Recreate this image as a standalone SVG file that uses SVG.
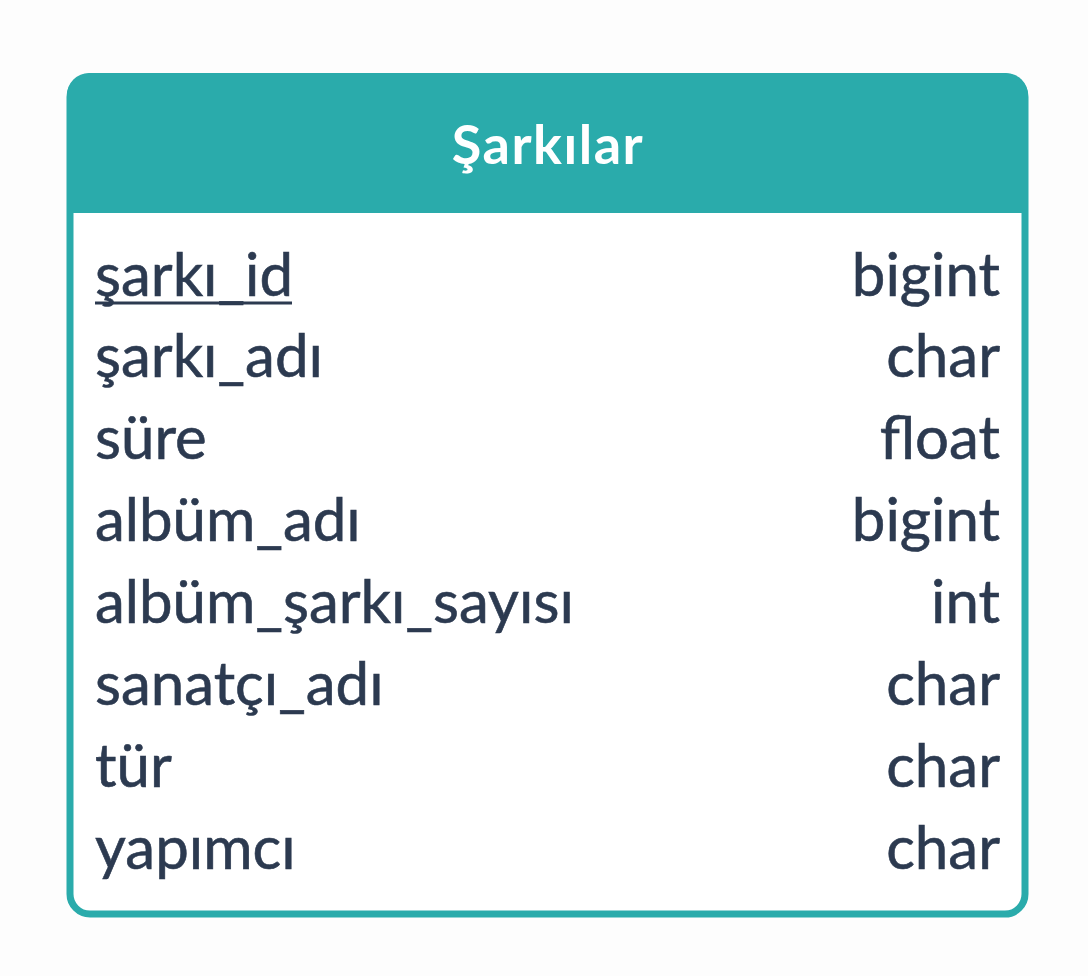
<svg xmlns="http://www.w3.org/2000/svg" width="1088" height="976" viewBox="0 0 1088 976">
<style>
.f{font-family:Lato,"Noto Sans","Liberation Sans",sans-serif;font-size:60px;fill:#2c3a50;stroke:#2c3a50;stroke-width:0.6px}
.r{text-anchor:end}
.h{font-family:Lato,"Noto Sans","Liberation Sans",sans-serif;font-size:54px;font-weight:bold;fill:#ffffff;text-anchor:middle;letter-spacing:1.5px}
</style>
<rect width="1088" height="976" fill="#fdfdfd"/>
<g id="table">
<rect x="70" y="77" width="955" height="837" rx="20" fill="#ffffff" stroke="#2aabab" stroke-width="7"/>
<path d="M67 213 V95 A22 22 0 0 1 89 73 H1006 A22 22 0 0 1 1028 95 V213 Z" fill="#2aabab"/>
<text class="h" x="548" y="164">Şarkılar</text>
<text class="f" x="95" y="296">şarkı_id</text>
<line x1="95" y1="303" x2="292" y2="303" stroke="#2c3a50" stroke-width="3"/>
<text class="f r" x="1000" y="296">bigint</text>
<text class="f" x="95" y="377">şarkı_adı</text>
<text class="f r" x="1000" y="377">char</text>
<text class="f" x="95" y="459">süre</text>
<text class="f r" x="1000" y="459">float</text>
<text class="f" x="95" y="541">albüm_adı</text>
<text class="f r" x="1000" y="541">bigint</text>
<text class="f" x="95" y="623">albüm_şarkı_sayısı</text>
<text class="f r" x="1000" y="623">int</text>
<text class="f" x="95" y="705">sanatçı_adı</text>
<text class="f r" x="1000" y="705">char</text>
<text class="f" x="95" y="787">tür</text>
<text class="f r" x="1000" y="787">char</text>
<text class="f" x="95" y="869">yapımcı</text>
<text class="f r" x="1000" y="869">char</text>
</g>
</svg>
